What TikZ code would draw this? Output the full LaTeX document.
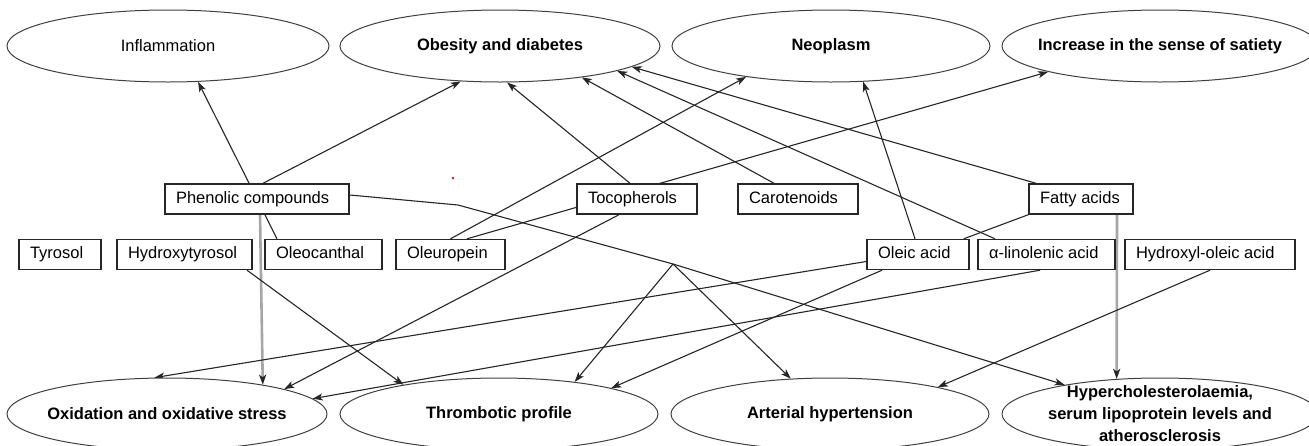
\documentclass[tikz,border=0pt]{standalone}
\usepackage{fontspec}
\setmainfont{Liberation Sans}
\usetikzlibrary{shapes.geometric,arrows.meta,backgrounds}
\newcommand{\boxtxt}[2]{\makebox[#1][l]{#2}}
\begin{document}
\begin{tikzpicture}[x=1pt,y=-1pt,
  ell/.style={ellipse, draw=black!75, line width=1pt, inner sep=0pt, fill=white,
    minimum height=72pt, font=\fontsize{16.5}{20}\selectfont\bfseries},
  bx/.style={draw=black!85, line width=1.4pt, fill=white, inner xsep=11pt, inner ysep=0pt,
    minimum height=30pt, text height=12pt, text depth=3.5pt, font=\fontsize{16.5}{20}\selectfont},
  conn/.style={draw=black!85, line width=1.1pt},
  arr/.style={conn, -{Stealth[length=10pt,width=7pt,inset=2.5pt]}},
  garr/.style={draw=black!35, line width=2.6pt, -{Stealth[length=10pt,width=7pt,inset=2.5pt,color=black!85]}}
]
\useasboundingbox (0,0) rectangle (1309,445);

% outcome ellipses (top)
\node[ell, minimum width=322pt, font=\fontsize{16.5}{20}\selectfont] (infl) at (168,46) {\makebox[0pt]{Inflammation}};
\node[ell, minimum width=320pt] (obes) at (500,46) {\makebox[0pt]{Obesity and diabetes}};
\node[ell, minimum width=318pt] (neo) at (831,46) {\makebox[0pt]{Neoplasm}};
\node[ell, minimum width=316pt] (sat) at (1160,46) {\makebox[0pt]{Increase in the sense of satiety}};

% outcome ellipses (bottom)
\node[ell, minimum width=320pt] (oxid) at (167,414) {\makebox[0pt]{Oxidation and oxidative stress}};
\node[ell, minimum width=318pt] (thromb) at (499,414) {\makebox[0pt]{Thrombotic profile}};
\node[ell, minimum width=318pt] (art) at (830,414) {\makebox[0pt]{Arterial hypertension}};
\node[ell, minimum width=316pt] (hyper) at (1160,414) {};
\node[align=center, inner sep=0pt, font=\fontsize{16.5}{22}\selectfont\bfseries] (hypert) at (1160,414)
  {Hypercholesterolaemia,\\serum lipoprotein levels and\\atherosclerosis};

% compound boxes, row 1
\node[bx] (phen) at (257,199) {\boxtxt{162pt}{Phenolic compounds}};
\node[bx] (toco) at (637,199) {\boxtxt{98pt}{Tocopherols}};
\node[bx] (carot) at (798,199) {\boxtxt{98pt}{Carotenoids}};
\node[bx] (fatty) at (1081,199) {\boxtxt{82pt}{Fatty acids}};

% compound boxes, row 2
\node[bx] (tyr) at (60,254.5) {\boxtxt{60pt}{Tyrosol}};
\node[bx] (hyd) at (184.5,254.5) {\boxtxt{113pt}{Hydroxytyrosol}};
\node[bx] (oleo) at (323.5,254.5) {\boxtxt{95pt}{Oleocanthal}};
\node[bx] (oleur) at (450.5,254.5) {\boxtxt{87pt}{Oleuropein}};
\node[bx] (oleic) at (918,254.5) {\boxtxt{80pt}{Oleic acid}};
\node[bx] (alin) at (1046.5,254.5) {\boxtxt{115pt}{α-linolenic acid}};
\node[bx] (hol) at (1210,254.5) {\boxtxt{148pt}{Hydroxyl-oleic acid}};

\coordinate (bend) at (458,205);
\coordinate (jn) at (673,264);
\fill[red] (453,178) circle (1.4pt);

\begin{pgfonlayer}{background}
\fill[white] (0,0) rectangle (1309,445);
% upward effects
\draw[arr] ([xshift=-46.5pt]oleo.north) -- (infl.-50.8);
\draw[arr] ([xshift=6pt]phen.north) -- (obes.-138.9);
\draw[arr] ([xshift=-7pt]toco.north) -- (obes.-79);
\draw[arr] ([xshift=-24pt]carot.north) -- (obes.-21.2);
\draw[arr] ([xshift=-51.5pt]alin.north) -- (obes.-12.7);
\draw[arr] ([xshift=-45pt]fatty.north) -- (obes.-9.6);
\draw[arr] (oleur.north) -- (neo.-160);
\draw[arr] ([xshift=16.5pt]oleur.north) -- (sat.-167.9);
\draw[arr] ([xshift=-3pt]oleic.north) -- (neo.-48.8);
\draw[conn] (fatty.south west) -- ([xshift=-6pt]oleic.north east);
% group effects (grey)
\draw[garr] ([xshift=3pt]phen.south) -- (oxid.17.5);
\draw[garr] ([xshift=36pt]fatty.south) -- (hyper.141.2);
% downward effects
\draw[arr] ([yshift=-7pt]oleic.west) -- (oxid.109.9);
\draw[arr] ([xshift=-18pt]toco.south) -- (oxid.12.5);
\draw[arr] ([xshift=-6.5pt]alin.south) -- (oxid.6.0);
\draw[arr] ([xshift=62.5pt]hyd.south) -- (thromb.163);
\draw[arr] ([xshift=-36pt]oleic.south) -- (thromb.13.7);
\draw[arr] (jn) -- (thromb.23.4);
\draw[arr] (jn) -- (art.138.8);
\draw[arr] ([yshift=4pt]phen.east) -- (bend) -- (jn) -- (hyper.163.9);
\draw[arr] (hol.south) -- (art.14.2);
\end{pgfonlayer}
\end{tikzpicture}
\end{document}
